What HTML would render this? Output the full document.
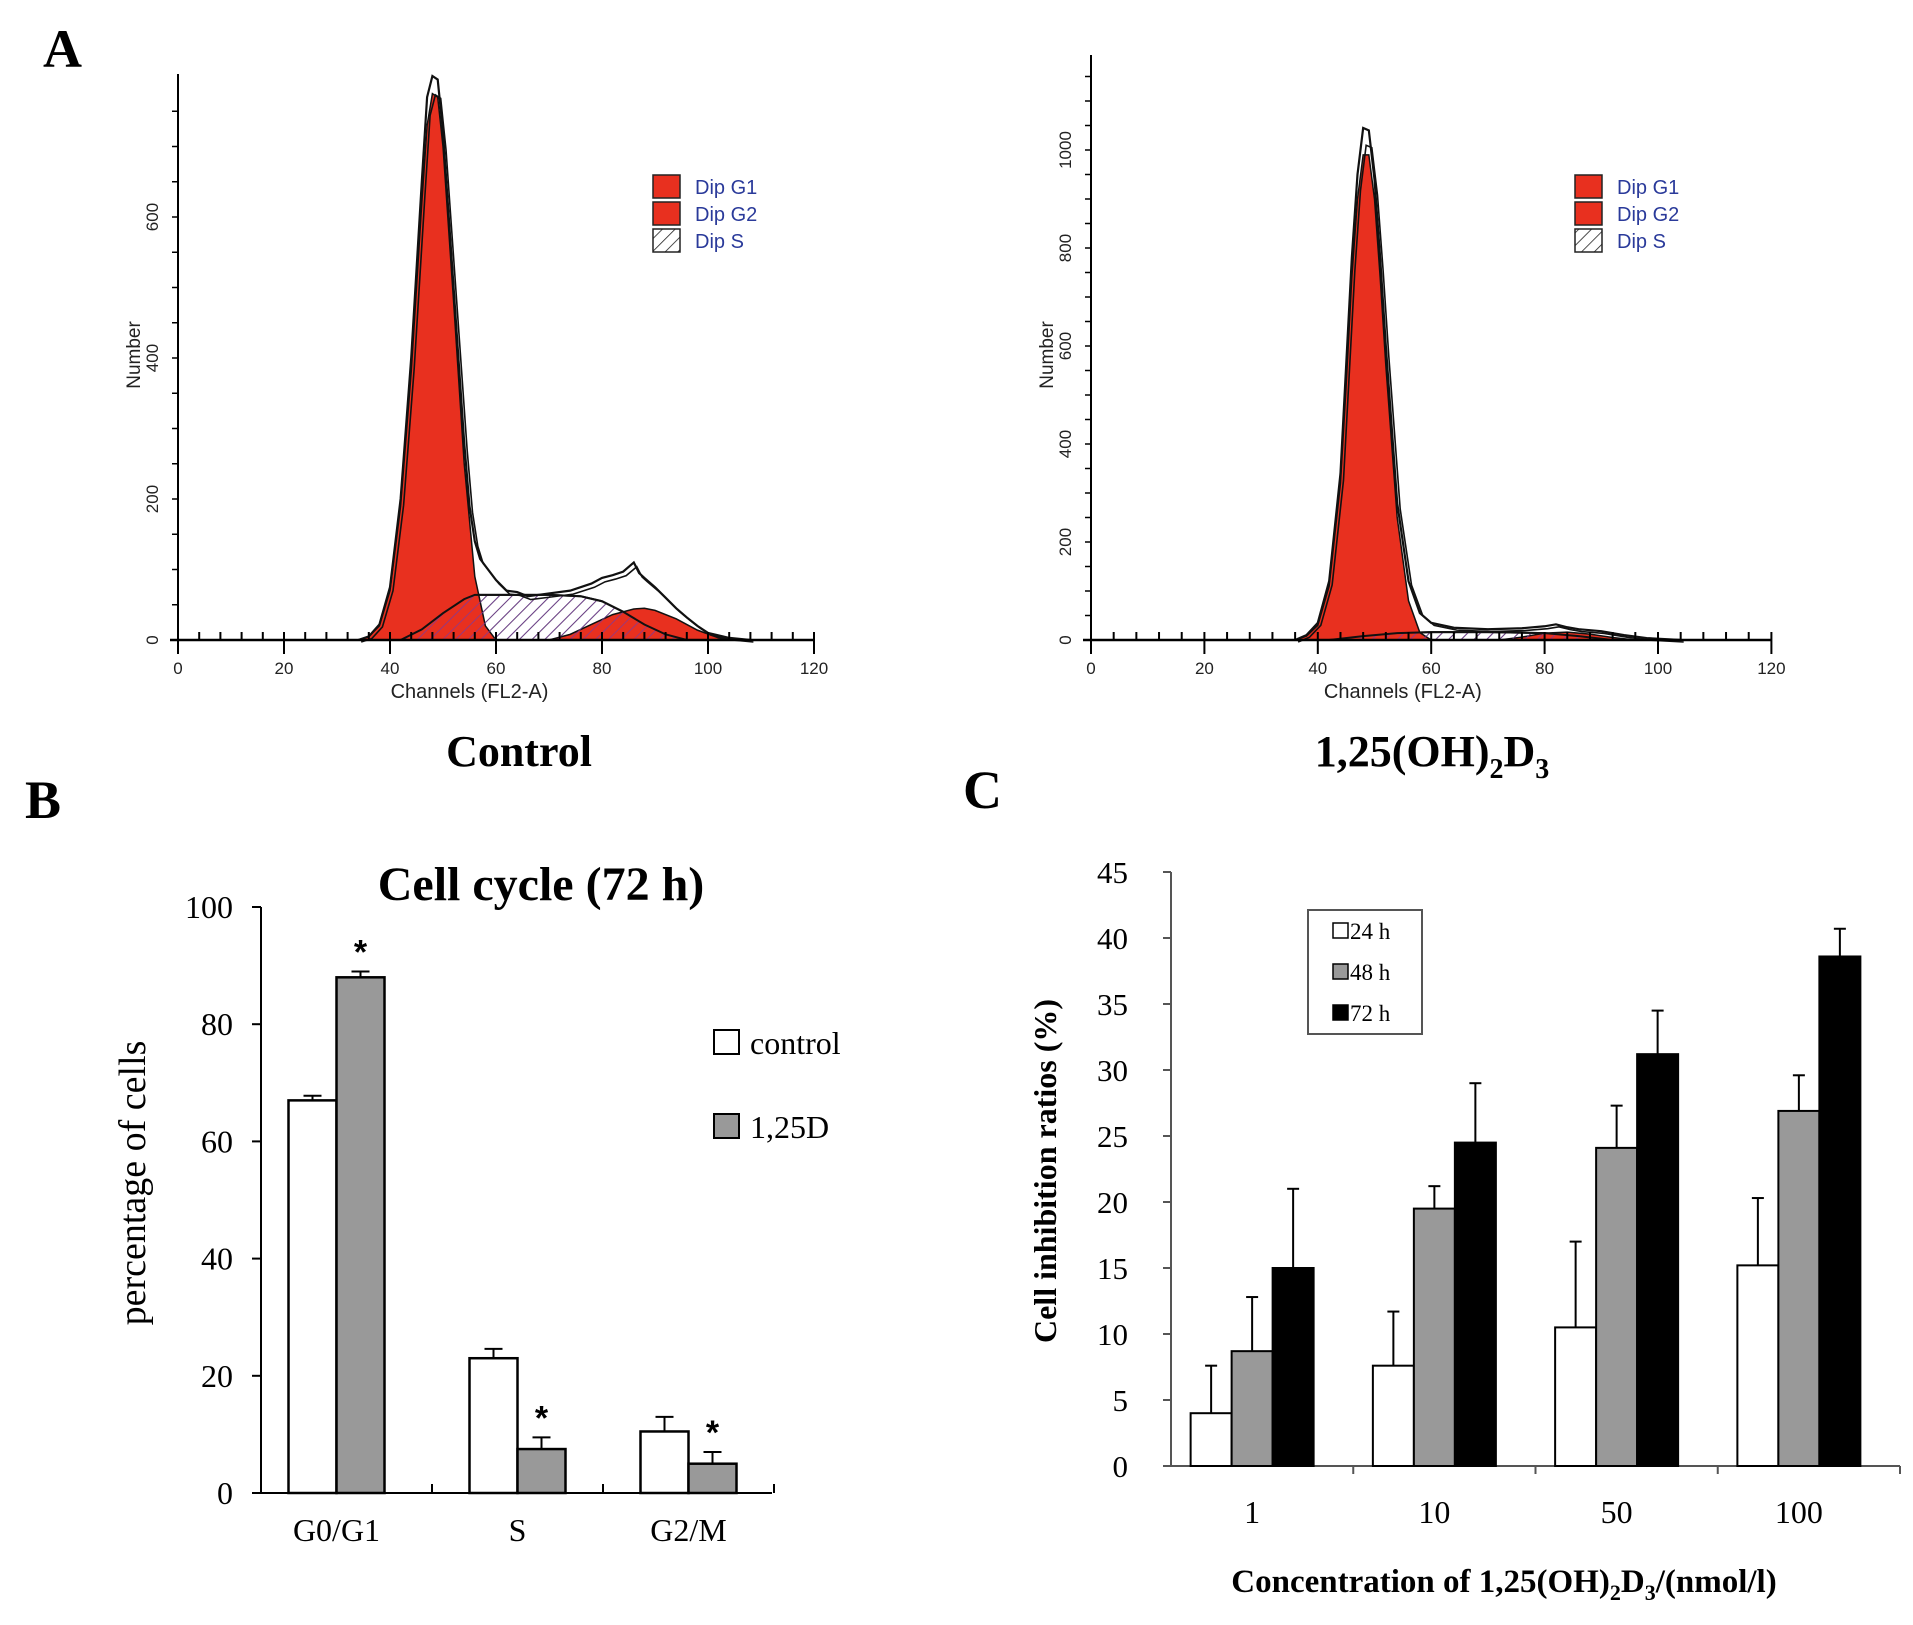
<!DOCTYPE html>
<html><head><meta charset="utf-8"><style>
body{margin:0;background:#fff}
svg{display:block}
.serif{font-family:"Liberation Serif",serif}
.sans{font-family:"Liberation Sans",sans-serif}
</style></head><body>
<svg id="fig" width="1913" height="1625" viewBox="0 0 1913 1625" xmlns="http://www.w3.org/2000/svg">
<defs>
<pattern id="hatch" patternUnits="userSpaceOnUse" width="9" height="9" patternTransform="rotate(45)">
<rect width="9" height="9" fill="#fff"/><line x1="0" y1="0" x2="0" y2="9" stroke="#222" stroke-width="1.6"/></pattern>
<pattern id="hatchRed" patternUnits="userSpaceOnUse" width="9" height="9" patternTransform="rotate(45)">
<line x1="0" y1="0" x2="0" y2="9" stroke="#7a3aa0" stroke-width="1.4"/></pattern>
</defs>
<text class="serif" x="43" y="67" font-size="54" font-weight="bold">A</text>
<text class="serif" x="25" y="818" font-size="54" font-weight="bold">B</text>
<text class="serif" x="963" y="808" font-size="54" font-weight="bold">C</text>
<text class="serif" x="519" y="766" font-size="44" text-anchor="middle" font-weight="bold">Control</text>
<text class="serif" x="1432" y="766" font-size="44" text-anchor="middle" font-weight="bold">1,25(OH)<tspan font-size="28" dy="12">2</tspan><tspan dy="-12">D</tspan><tspan font-size="28" dy="12">3</tspan></text>
<g id="histA"></g>
<g id="histB"></g>
<g id="barB"></g>
<g id="barC"></g>
</svg>
<script>
// ---- Panel A data (channel, count) ----
const ctrlG1Ch=[34,36,38,40,42,44,46,47,48,49,50,52,54,56,58,60];
const ctrlG1=[0,5,20,70,190,380,620,730,775,770,700,480,250,90,20,0];
const ctrlTotCh=[34,36,38,40,42,44,46,47,48,49,50,52,54,55,56,57,58,60,62,64,66,70,74,78,80,82,84,86,87,88,90,92,94,96,98,100,104,108];
const ctrlTot=[0,5,22,75,200,400,650,770,800,795,720,500,280,190,140,115,105,85,70,68,62,66,70,80,88,92,97,110,95,88,75,60,45,32,20,10,3,0];
const ctrlSCh=[42,46,50,54,56,60,70,76,80,84,88,92,96];
const ctrlS=[0,15,38,58,64,64,64,62,55,40,22,8,0];
const ctrlG2Ch=[70,74,78,82,86,88,90,94,98,102,104];
const ctrlG2=[0,8,22,36,44,45,42,30,14,3,0];
const trtG1Ch=[36,38,40,42,44,45,46,47,48,49,50,51,52,54,56,58,60];
const trtG1=[0,8,30,110,320,520,740,900,990,990,900,740,560,250,80,15,0];
const trtTotCh=[36,38,40,42,44,45,46,47,48,49,50,51,52,54,56,58,60,64,70,76,80,82,84,86,90,94,98,104];
const trtTot=[0,10,35,120,340,560,780,950,1045,1040,940,780,600,280,120,55,35,25,22,24,28,32,26,22,18,10,4,0];
const trtSCh=[42,48,54,60,70,80,86,92];
const trtS=[0,8,14,16,16,14,8,0];
const trtG2Ch=[72,76,80,84,88,92,96];
const trtG2=[0,6,14,16,12,5,0];
const legendNames=["Dip G1","Dip G2","Dip S"];

// ---- Panel B data ----
const bCats=["G0/G1","S","G2/M"];
const bControl=[67,23,10.5];
const bControlErr=[0.8,1.6,2.5];
const bTreated=[88,7.5,5];
const bTreatedErr=[1,2,2];
const bYTicks=[0,20,40,60,80,100];

// ---- Panel C data ----
const cCats=["1","10","50","100"];
const c24=[4,7.6,10.5,15.2];
const c24Err=[3.6,4.1,6.5,5.1];
const c48=[8.7,19.5,24.1,26.9];
const c48Err=[4.1,1.7,3.2,2.7];
const c72=[15,24.5,31.2,38.6];
const c72Err=[6,4.5,3.3,2.1];
const cYTicks=[0,5,10,15,20,25,30,35,40,45];

const NS="http://www.w3.org/2000/svg";
function mk(parent,tag,attrs,text){const e=document.createElementNS(NS,tag);for(const k in attrs)e.setAttribute(k,attrs[k]);if(text!==undefined)e.textContent=text;parent.appendChild(e);return e;}

function histogram(g,o){
  const X=c=>o.x0+c*o.xs, Y=v=>o.y0-v*o.ys;
  const poly=(ch,vals)=>{let p=X(ch[0])+","+Y(0);ch.forEach((c,i)=>p+=" "+X(c)+","+Y(vals[i]));p+=" "+X(ch[ch.length-1])+","+Y(0);return p;};
  const line=(ch,vals)=>ch.map((c,i)=>X(c)+","+Y(vals[i])).join(" ");
  let e;
  e=mk(g,"polygon",{points:poly(o.sCh,o.s),fill:"url(#hatch)",stroke:"#111","stroke-width":2});
  
  
  e=mk(g,"polygon",{points:poly(o.g1Ch,o.g1),fill:"#e8301f",stroke:"#111","stroke-width":1.5});
  
  
  e=mk(g,"polygon",{points:poly(o.g2Ch,o.g2),fill:"#e8301f",stroke:"#111","stroke-width":1.5});
  
  
  e=mk(g,"polygon",{points:poly(o.sCh,o.s),fill:"url(#hatchRed)",stroke:"#111","stroke-width":2});
  
  
  e=mk(g,"polyline",{points:line(o.totCh,o.tot),fill:"none",stroke:"#111","stroke-width":2.2});
  
  
  e=mk(g,"polyline",{points:line(o.totCh,o.tot.map(v=>v*0.97)),fill:"none",stroke:"#111","stroke-width":1.6,transform:"translate(3,2)"});
  
  
  e=mk(g,"line",{x1:o.x0,y1:o.y0,x2:o.x0,y2:o.top,stroke:"#000","stroke-width":2});
  
  
  e=mk(g,"line",{x1:o.x0-8,y1:o.y0,x2:X(120),y2:o.y0,stroke:"#000","stroke-width":2.5});
  
  
  for(let c=0;c<=120;c+=4){const big=c%20===0;mk(g,"line",{x1:X(c),y1:o.y0-8,x2:X(c),y2:o.y0+(big?14:0),stroke:"#000","stroke-width":2});}
  for(let c=0;c<=120;c+=20){e=mk(g,"text",{x:X(c),y:o.y0+34,"font-size":17,"text-anchor":"middle",class:"sans",fill:"#222"},String(c));
    
    }
  for(let v=0;v<=o.ymax;v+=o.minor){mk(g,"line",{x1:o.x0-6,y1:Y(v),x2:o.x0,y2:Y(v),stroke:"#000","stroke-width":1.5});}
  for(let v=0;v<=o.ymax;v+=200){e=mk(g,"text",{x:0,y:0,"font-size":17,"text-anchor":"middle",class:"sans",fill:"#222",transform:`translate(${o.x0-20},${Y(v)}) rotate(-90)`},String(v));
    
    }
  e=mk(g,"text",{x:0,y:0,"font-size":19,"text-anchor":"middle",class:"sans",fill:"#222",transform:`translate(${o.x0-38},${o.y0-285}) rotate(-90)`},"Number");
  
  
  e=mk(g,"text",{x:X(55),y:o.y0+58,"font-size":20,"text-anchor":"middle",class:"sans",fill:"#222"},"Channels  (FL2-A)");
  
  
  legendNames.forEach((n,i)=>{const ly=o.legY+i*27;
    e=mk(g,"rect",{x:o.legX,y:ly,width:27,height:23,fill:i<2?"#e8301f":"url(#hatch)",stroke:"#222","stroke-width":1.5});
    
    
    e=mk(g,"text",{x:o.legX+42,y:ly+19,"font-size":20,class:"sans",fill:"#2a3a9a"},n);
    
    });
}
histogram(document.getElementById("histA"),{x0:178,xs:5.3,y0:640,ys:0.705,top:74,ymax:780,minor:50,
  g1Ch:ctrlG1Ch,g1:ctrlG1,totCh:ctrlTotCh,tot:ctrlTot,sCh:ctrlSCh,s:ctrlS,g2Ch:ctrlG2Ch,g2:ctrlG2,legX:653,legY:175});
histogram(document.getElementById("histB"),{x0:1091,xs:5.67,y0:640,ys:0.49,top:55,ymax:1150,minor:50,
  g1Ch:trtG1Ch,g1:trtG1,totCh:trtTotCh,tot:trtTot,sCh:trtSCh,s:trtS,g2Ch:trtG2Ch,g2:trtG2,legX:1575,legY:175});

// ---- Panel B ----
(function(){
  const g=document.getElementById("barB");
  const x0=261,x1=772,y0=1493,ys=(1493-907)/100,gw=171,bw=48;
  const Y=v=>y0-v*ys;
  let e;
  e=mk(g,"text",{x:541,y:900,"font-size":48,"font-weight":"bold","text-anchor":"middle",class:"serif"},"Cell cycle (72 h)");
  
  
  e=mk(g,"line",{x1:x0,y1:Y(100),x2:x0,y2:y0,stroke:"#000","stroke-width":2});
  
  
  e=mk(g,"line",{x1:x0,y1:y0,x2:x1,y2:y0,stroke:"#000","stroke-width":2});
  
  
  bYTicks.forEach(v=>{mk(g,"line",{x1:x0-9,y1:Y(v),x2:x0,y2:Y(v),stroke:"#000","stroke-width":2});
    e=mk(g,"text",{x:x0-28,y:Y(v)+11,"font-size":32,"text-anchor":"end",class:"serif"},String(v));
    
    });
  for(let i=1;i<=bCats.length;i++)mk(g,"line",{x1:x0+i*gw,y1:y0,x2:x0+i*gw,y2:y0-9,stroke:"#000","stroke-width":2});
  e=mk(g,"text",{x:0,y:0,"font-size":38,"text-anchor":"middle",class:"serif",transform:"translate(145,1183) rotate(-90)"},"percentage of cells");
  
  
  bCats.forEach((c,i)=>{
    const cx=x0+i*gw+gw/2+(i===0?-10:0);
    [[bControl,bControlErr,"#fff"],[bTreated,bTreatedErr,"#999"]].forEach(([vals,errs,fill],k)=>{
      const bx=cx-bw+k*bw;
      mk(g,"line",{x1:bx+bw/2,y1:Y(vals[i]),x2:bx+bw/2,y2:Y(vals[i]+errs[i]),stroke:"#000","stroke-width":2});
      mk(g,"line",{x1:bx+bw/2-9,y1:Y(vals[i]+errs[i]),x2:bx+bw/2+9,y2:Y(vals[i]+errs[i]),stroke:"#000","stroke-width":2});
      e=mk(g,"rect",{x:bx,y:Y(vals[i]),width:bw,height:y0-Y(vals[i]),fill:fill,stroke:"#000","stroke-width":2.5});
      
      
      if(k===1){e=mk(g,"text",{x:bx+bw/2,y:Y(vals[i]+errs[i])-8,"font-size":34,"font-weight":"bold","text-anchor":"middle",class:"sans"},"*");
        
        }
    });
    e=mk(g,"text",{x:cx,y:1541,"font-size":32,"text-anchor":"middle",class:"serif"},c);
    
    
  });
  [["control","#fff",1030],["1,25D","#999",1114]].forEach(([n,f,ly])=>{
    e=mk(g,"rect",{x:714,y:ly,width:25,height:24,fill:f,stroke:"#000","stroke-width":2});
    
    
    e=mk(g,"text",{x:750,y:ly+24,"font-size":32,class:"serif"},n);
    
    });
})();

// ---- Panel C ----
(function(){
  const g=document.getElementById("barC");
  const x0=1171,x1=1900,y0=1466,ys=(1466-872)/45,gw=(x1-x0)/4,bw=41;
  const Y=v=>y0-v*ys;
  let e;
  e=mk(g,"line",{x1:x0,y1:Y(45),x2:x0,y2:y0,stroke:"#555","stroke-width":2});
  
  
  e=mk(g,"line",{x1:x0,y1:y0,x2:x1,y2:y0,stroke:"#555","stroke-width":2});
  
  
  cYTicks.forEach(v=>{mk(g,"line",{x1:x0-8,y1:Y(v),x2:x0,y2:Y(v),stroke:"#555","stroke-width":2});
    e=mk(g,"text",{x:1128,y:Y(v)+11,"font-size":31,"text-anchor":"end",class:"serif"},String(v));
    
    });
  for(let i=1;i<=4;i++)mk(g,"line",{x1:x0+i*gw,y1:y0,x2:x0+i*gw,y2:y0+8,stroke:"#555","stroke-width":2});
  e=mk(g,"text",{x:0,y:0,"font-size":32,"font-weight":"bold","text-anchor":"middle",class:"serif",transform:"translate(1056,1171) rotate(-90)"},"Cell inhibition ratios (%)");
  
  
  e=mk(g,"text",{x:1504,y:1592,"font-size":33,"font-weight":"bold","text-anchor":"middle",class:"serif"},"");
  e.innerHTML='Concentration of 1,25(OH)<tspan font-size="22" dy="8">2</tspan><tspan dy="-8">D</tspan><tspan font-size="22" dy="8">3</tspan><tspan dy="-8">/(nmol/l)</tspan>';
  
  
  const series=[[c24,c24Err,"#fff"],[c48,c48Err,"#999"],[c72,c72Err,"#000"]];
  cCats.forEach((c,i)=>{
    const cx=x0+i*gw+gw/2-10;
    series.forEach(([vals,errs,fill],k)=>{
      const bx=cx-1.5*bw+k*bw;
      mk(g,"line",{x1:bx+bw/2,y1:Y(vals[i]),x2:bx+bw/2,y2:Y(vals[i]+errs[i]),stroke:"#000","stroke-width":2});
      mk(g,"line",{x1:bx+bw/2-6,y1:Y(vals[i]+errs[i]),x2:bx+bw/2+6,y2:Y(vals[i]+errs[i]),stroke:"#000","stroke-width":2});
      e=mk(g,"rect",{x:bx,y:Y(vals[i]),width:bw,height:y0-Y(vals[i]),fill:fill,stroke:"#000","stroke-width":2});
      
      
    });
    e=mk(g,"text",{x:x0+i*gw+gw/2-10,y:1523,"font-size":32,"text-anchor":"middle",class:"serif"},c);
    
    
  });
  e=mk(g,"rect",{x:1308,y:910,width:114,height:124,fill:"#fff",stroke:"#555","stroke-width":2});
  
  
  [["24 h","#fff"],["48 h","#999"],["72 h","#000"]].forEach(([n,f],i)=>{const ly=923+i*41;
    e=mk(g,"rect",{x:1333,y:ly,width:15,height:15,fill:f,stroke:"#000","stroke-width":1.5});
    
    
    e=mk(g,"text",{x:1350,y:ly+16,"font-size":23,class:"serif"},n);
    
    });
})();
</script>
</body></html>
